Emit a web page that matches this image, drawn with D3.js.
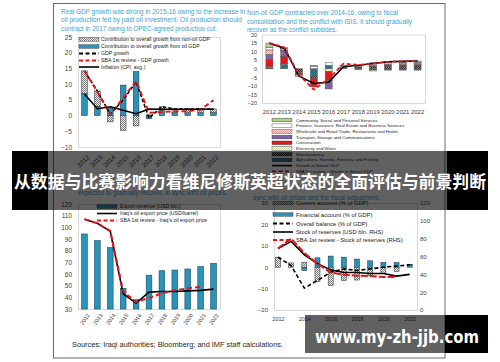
<!DOCTYPE html>
<html>
<head>
<meta charset="utf-8">
<script src="https://cdn.jsdelivr.net/npm/d3@7/dist/d3.min.js"></script>
<style>
    body { margin: 0; background: #fff; }
    svg { display: block; font-family: "Liberation Sans", Arial, sans-serif; }
</style>
</head>
<body>
<svg width="500" height="362"></svg>
<script>
// years shared by the panels
var years = ["2012", "2013", "2014", "2015", "2016", "2017", "2018", "2019", "2020", "2021", "2022"];

// panel 1 - real GDP growth, percent
var oilContribution = [7.0, 3.0, 2.4, 9.7, 14.0, -1.0, 1.6, 0.9, 0.9, 0.9, 0.9];
var nonOilContribution = [7.2, 4.8, -2.0, -4.7, -3.3, 0.2, 1.2, 1.2, 1.2, 1.2, 1.2];
var gdpGrowth = [14.2, 7.8, 0.4, 5.0, 10.7, -0.8, 2.8, 2.1, 2.1, 2.1, 2.1];
var sbaGdpGrowth = [14.2, 7.6, 0.3, 5.6, 11.0, 0.9, 1.1, 1.4, 1.4, 1.9, 4.9];
var inflation = [6.9, 2.2, 2.8, 1.7, 0.6, 2.1, 2.0, 2.0, 2.0, 2.0, 2.0];
var p1Ticks = [25, 20, 15, 10, 5, 0, -5, -10];

// panel 2 - non-oil GDP growth by sector, percentage points
var agriculture = [0.3, 2.5, 0, -4.3, 2.0, 0, -0.5, -0.7, -0.8, -0.8, -0.8];
var manufacturing = [0.5, 0, -2.0, -1.3, 0, 0.8, 1.0, 1.5, 1.5, 1.6, 1.7];
var electricity = [0.4, 0.3, -0.5, 0, -1.6, 0, 0, -0.6, 0, 0, 0];
var construction = [4.3, 4.5, -1.0, -5.0, -5.3, 0, 0, 0.5, 0.8, 0.9, 0.9];
var transport = [2.9, 3.5, 0, 0, -4.9, 0, 0, 0, 0, 0, 0];
var wholesale = [2.6, 0.8, 0, 0, 0, 0, 0, 0, 0.5, 0.5, 0.6];
var finance = [1.4, 0.3, 0, 1.5, 1.5, 0.5, 0.5, 0.8, 0.7, 0.6, 0.6];
var community = [2.6, 0.6, -1.0, 0.5, 0, 0.5, 0.5, 0.7, 0.6, 0.7, 0.7];
var nonOilGrowth = [14.9, 12.0, -4.3, -8.6, -7.8, 1.2, 2.0, 3.1, 4.1, 4.3, 4.5];
var sbaNonOilGrowth = [15.0, 12.5, -3.5, -12.2, -6.0, 3.0, 2.2, 3.0, 4.0, 4.5, 4.5];
var p2Ticks = [20, 15, 10, 5, 0, -5, -10, -15, -20];

// panel 3 - exports
var exportRevenue = [94.3, 88.6, 82.6, 47.7, 38.0, 59.0, 62.8, 63.4, 64.3, 66.3, 69.1];
var oilPrice = [107, 103.5, 96.5, 43, 35, 44.5, 45, 45, 45.5, 46, 47];
var sbaOilPrice = [107, 103.5, 97, 45, 36, 39.5, 43.5, 46, 47.7, 49];
var p3Ticks = [120, 110, 100, 90, 80, 70, 60, 50, 40, 30];

// panel 4 - balance of payments
var bopYears = [2012, 2013, 2014, 2015, 2016, 2017, 2018, 2019, 2020, 2021, 2022];
var currentAccount = [4.7, 2.0, 2.3, -6.7, -8.6, -6.2, -6.0, -4.0, -3.0, -2.0, 0.3];
var financialAccount = [0, 0, -1.5, 4.4, 5.2, 4.7, 3.8, 3.0, 2.3, 2.2, 1.1];
var overallBalance = [4.7, 0.8, -9.8, -6.2, -2.3, -0.8, -1.5, -0.8, 0, 0.5, 1.1];
var reserves = [69, 77, 62, 52, 45, 42, 42, 41, 41, 38, 40];
var sbaReserves = [69, 80, 64, 52, 42, 39.5, 38.5, 38, 37, 37];
var p4LeftTicks = [30, 20, 10, 0, -10, -20];
var p4RightTicks = [120, 100, 80, 60, 40, 20, 0];
var p4YearTicks = [2012, 2014, 2016, 2018, 2020, 2022];

(function () {
    var svg = d3.select("svg");
    var teal = "#2a93ba", tealEdge = "#164a5c", red = "#e8141b";
    var axisText = "#404040", titleBlue = "#3c9fcf", boxGray = "#cfcfcf";

    svg.append("rect").attr("width", 500).attr("height", 362).attr("fill", "#fff");

    // 2x2 checker patterns for hatched / dotted fills
    var defs = svg.append("defs");
    function checker(id, a, b) {
        var p = defs.append("pattern").attr("id", id)
            .attr("width", 2).attr("height", 2).attr("patternUnits", "userSpaceOnUse");
        p.append("rect").attr("width", 2).attr("height", 2).attr("fill", a);
        p.append("rect").attr("width", 1).attr("height", 1).attr("fill", b);
        p.append("rect").attr("x", 1).attr("y", 1).attr("width", 1).attr("height", 1).attr("fill", b);
    }
    checker("hatch", "#f0f0f0", "#7a7a7a");
    checker("dotPink", "#fde6e6", "#e39a9a");
    checker("dotDark", "#808080", "#262626");
    checker("dotGreen", "#ffffff", "#c3d6a0");

    function label(x, y, str, size, fill, anchor, width) {
        var t = svg.append("text").attr("x", x).attr("y", y)
            .attr("font-size", size).attr("fill", fill)
            .attr("text-anchor", anchor || "start").text(str);
        if (width) t.attr("textLength", width).attr("lengthAdjust", "spacingAndGlyphs");
        return t;
    }

    function box(x0, y0, x1, y1) {
        svg.append("rect").attr("x", x0 + 0.5).attr("y", y0 + 0.5)
            .attr("width", x1 - x0).attr("height", y1 - y0)
            .attr("fill", "none").attr("stroke", boxGray).attr("stroke-width", 0.8);
    }

    function styleAxis(g, size) {
        g.select(".domain").remove();
        g.attr("font-family", null).attr("font-size", size).style("color", axisText);
        return g;
    }

    function drawLine(values, xf, yf, color, width, dash) {
        var line = d3.line()
            .defined(function (d) { return d != null; })
            .x(function (d, i) { return xf(i); })
            .y(function (d) { return yf(d); });
        svg.append("path").datum(values)
            .attr("d", line).attr("fill", "none")
            .attr("stroke", color).attr("stroke-width", width)
            .attr("stroke-dasharray", dash || null)
            .attr("stroke-linejoin", "round");
    }

    function legendRow(x, y, kind, color, text, size, textX) {
        if (kind === "rect") {
            svg.append("rect").attr("x", x).attr("y", y - 1.8).attr("width", 20).attr("height", 3.6)
                .attr("fill", color).attr("stroke", "#333").attr("stroke-width", 0.4);
        } else {
            svg.append("line").attr("x1", x).attr("x2", x + 20).attr("y1", y).attr("y2", y)
                .attr("stroke", color).attr("stroke-width", kind === "solid" ? 1.6 : 1.8)
                .attr("stroke-dasharray", kind === "dash" ? "4,2.5" : null);
        }
        label(textX, y + size * 0.35, text, size, "#222");
    }

    function stackedBars(rows, keys, fills, xf, barW, yf, stroke) {
        var series = d3.stack().keys(keys).offset(d3.stackOffsetDiverging)(rows);
        series.forEach(function (s, k) {
            svg.append("g").selectAll("rect")
                .data(s.filter(function (d) { return d[1] !== d[0]; }))
                .enter().append("rect")
                .attr("x", function (d) { return xf(d.data) - barW / 2; })
                .attr("y", function (d) { return yf(Math.max(d[0], d[1])); })
                .attr("width", barW)
                .attr("height", function (d) { return Math.abs(yf(d[0]) - yf(d[1])); })
                .attr("fill", fills[k])
                .attr("stroke", stroke).attr("stroke-width", 0.5);
        });
    }

    // ---------- panel 1 ----------
    label(61, 13.5, "Real GDP growth was strong in 2015-16 owing to the increase in", 6.5, titleBlue, "start", 184);
    label(61, 22, "oil production fed by past oil investment. Oil production should", 6.5, titleBlue, "start", 181);
    label(61, 30.5, "contract in 2017 owing to OPEC-agreed production cut.", 6.5, titleBlue, "start", 156);

    var x1 = d3.scaleBand().domain(years).range([78, 220]);
    var y1 = d3.scaleLinear().domain([-10, 25]).range([147, 37]);
    var c1 = function (i) { return x1(years[i]) + x1.bandwidth() / 2; };
    box(78, 37, 220, 147);

    styleAxis(svg.append("g").attr("transform", "translate(78,0)")
        .call(d3.axisLeft(y1).tickValues(p1Ticks).tickSize(0).tickPadding(6)), 6.5);
    var ax1 = styleAxis(svg.append("g").attr("transform", "translate(0,147)")
        .call(d3.axisBottom(x1).tickSize(0)), 6.5);
    ax1.selectAll("text").attr("x", 0).attr("y", 0).attr("dy", "0.35em")
        .attr("text-anchor", "end").attr("transform", "translate(4,9) rotate(-45)");

    var p1Rows = years.map(function (yr, i) { return { i: i, oil: oilContribution[i], nonOil: nonOilContribution[i] }; });
    stackedBars(p1Rows, ["oil", "nonOil"], [teal, "url(#hatch)"],
        function (d) { return c1(d.i); }, x1.bandwidth() * 0.44, y1, "#1e2d33");

    drawLine(gdpGrowth, c1, y1, "#000", 1.6, "3.5,2");
    drawLine(sbaGdpGrowth, c1, y1, red, 2, "5,3");
    drawLine(inflation, c1, y1, "#000", 1.5);

    legendRow(79, 39.5, "rect", "url(#hatch)", "Contribution to overall growth from non-oil GDP", 5.2, 101);
    legendRow(79, 46.5, "rect", teal, "Contribution to overall growth from oil GDP", 5.2, 101);
    legendRow(79, 53.5, "dash", "#000", "GDP growth", 5.2, 101);
    legendRow(79, 60.5, "dash", red, "SBA 1st review - GDP growth", 5.2, 101);
    legendRow(79, 67, "solid", "#000", "Inflation (CPI, avg.)", 5.2, 101);

    // ---------- panel 2 ----------
    label(247, 15, "Non-oil GDP contracted over 2014-16, owing to fiscal", 6.5, titleBlue, "start", 151);
    label(247, 23.5, "consolidation and the conflict with ISIS. It should gradually", 6.5, titleBlue, "start", 165);
    label(247, 31.5, "recover as the conflict subsides.", 6.5, titleBlue, "start", 90);

    var x2 = d3.scaleBand().domain(years).range([262, 425]);
    var y2 = d3.scaleLinear().domain([-20, 20]).range([103, 34.5]);
    var c2 = function (i) { return x2(years[i]) + x2.bandwidth() / 2; };
    box(262, 34.5, 425, 103);

    styleAxis(svg.append("g").attr("transform", "translate(262,0)")
        .call(d3.axisLeft(y2).tickValues(p2Ticks).tickSize(0).tickPadding(5)), 5.5);
    styleAxis(svg.append("g").attr("transform", "translate(0,103)")
        .call(d3.axisBottom(x2).tickSize(0).tickPadding(7)), 6);

    var sectorKeys = ["agri", "manu", "elec", "cons", "trans", "whole", "fin", "comm"];
    var sectorFills = ["#2b6f8e", "url(#dotDark)", "url(#dotGreen)", "#e5161d", "#8064a2", "url(#dotPink)", "#ffffff", "#b4cf8c"];
    var p2Rows = years.map(function (yr, i) {
        return {
            i: i, agri: agriculture[i], manu: manufacturing[i], elec: electricity[i], cons: construction[i],
            trans: transport[i], whole: wholesale[i], fin: finance[i], comm: community[i]
        };
    });
    stackedBars(p2Rows, sectorKeys, sectorFills,
        function (d) { return c2(d.i); }, x2.bandwidth() * 0.47, y2, "#555");

    drawLine(nonOilGrowth, c2, y2, "#000", 1.6);
    drawLine(sbaNonOilGrowth, c2, y2, red, 1.8, "4,2.5");

    var sectorNames = [
        "Community, Social and Personal Services",
        "Finance, Insurance, Real Estate and Business Services",
        "Wholesale and Retail Trade, Restaurants and Hotels",
        "Transport, Storage and Communications",
        "Construction",
        "Electricity and Water",
        "Manufacturing",
        "Agriculture, Hunting, Forestry, and Fishing"
    ];
    sectorNames.forEach(function (name, k) {
        legendRow(272, 120 + k * 5.7, "rect", sectorFills[7 - k], name, 4.4, 296);
    });
    legendRow(272, 120 + 8 * 5.7, "solid", "#000", "Growth in Nonoil GDP", 4.4, 296);
    legendRow(272, 120 + 9 * 5.7, "dash", red, "SBA 1st review - Growth in Nonoil GDP", 4.4, 296);

    // ---------- panel 3 ----------
    label(78, 195, "expected to gradually recover, in sync with oil prices.", 6.5, titleBlue, "start", 149);

    var x3 = d3.scaleBand().domain(years).range([78, 220]);
    var y3 = d3.scaleLinear().domain([30, 120]).range([309, 204]);
    var c3 = function (i) { return x3(years[i]) + x3.bandwidth() / 2; };
    box(78, 204, 220, 309);

    styleAxis(svg.append("g").attr("transform", "translate(78,0)")
        .call(d3.axisLeft(y3).tickValues(p3Ticks).tickSize(0).tickPadding(6)), 6.5);
    var ax3 = styleAxis(svg.append("g").attr("transform", "translate(0,309)")
        .call(d3.axisBottom(x3).tickSize(0)), 5.5);
    ax3.selectAll("text").attr("x", 0).attr("y", 0).attr("dy", "0.35em")
        .attr("text-anchor", "end").attr("transform", "translate(4,5) rotate(-55)");

    var bw3 = x3.bandwidth() * 0.44;
    svg.append("g").selectAll("rect").data(exportRevenue).enter().append("rect")
        .attr("x", function (d, i) { return c3(i) - bw3 / 2; })
        .attr("y", function (d) { return y3(d); })
        .attr("width", bw3)
        .attr("height", function (d) { return y3(30) - y3(d); })
        .attr("fill", teal).attr("stroke", tealEdge).attr("stroke-width", 0.6);

    drawLine(oilPrice, c3, y3, "#000", 1.6);
    drawLine(sbaOilPrice, c3, y3, red, 2, "5,3");

    legendRow(97, 206.5, "rect", teal, "Export revenue (USD bln.)", 5.2, 120);
    legendRow(97, 213.5, "solid", "#000", "Iraq's oil export price (USD/barrel)", 5.2, 120);
    legendRow(97, 220.5, "dash", red, "SBA 1st review - Iraq's oil export price", 5.2, 120);

    label(72, 347, "Sources: Iraqi authorities; Bloomberg; and IMF staff calculations.", 6.5, "#262626", "start", 211);

    // ---------- panel 4 ----------
    label(253, 200, "sync with oil prices and the fiscal adjustment.", 6.5, titleBlue, "start", 127);

    var x4 = d3.scaleLinear().domain([2011.7, 2022.55]).range([274, 417]);
    var y4 = d3.scaleLinear().domain([-20, 30]).range([310, 203]);
    var y4r = d3.scaleLinear().domain([0, 120]).range([310, 203]);
    var c4 = function (i) { return x4(bopYears[i]); };
    box(274, 203, 417, 310);

    styleAxis(svg.append("g").attr("transform", "translate(274,0)")
        .call(d3.axisLeft(y4).tickValues(p4LeftTicks).tickSize(0).tickPadding(6)), 6);
    styleAxis(svg.append("g").attr("transform", "translate(417,0)")
        .call(d3.axisRight(y4r).tickValues(p4RightTicks).tickSize(0).tickPadding(3)), 6);
    styleAxis(svg.append("g").attr("transform", "translate(0,310)")
        .call(d3.axisBottom(x4).tickValues(p4YearTicks).tickFormat(d3.format("d")).tickSize(0).tickPadding(7)), 5.5);

    var p4Rows = bopYears.map(function (yr, i) { return { i: i, fa: financialAccount[i], ca: currentAccount[i] }; });
    stackedBars(p4Rows, ["fa", "ca"], [teal, "url(#hatch)"],
        function (d) { return c4(d.i); }, 5, y4, "#1e2d33");

    drawLine(overallBalance, c4, y4, "#000", 1.6, "4,2.5");
    drawLine(reserves, c4, y4r, "#000", 1.6);
    drawLine(sbaReserves, c4, y4r, red, 2, "7,2");

    legendRow(273, 203, "rect", "url(#hatch)", "Current account (% of GDP)", 5.8, 296);
    legendRow(273, 214.5, "rect", teal, "Financial account (% of GDP)", 5.8, 296);
    legendRow(273, 223.5, "dash", "#000", "Overall balance (% of GDP)", 5.8, 296);
    legendRow(273, 232, "solid", "#000", "Stock of reserves (USD bln. RHS)", 5.8, 296);
    legendRow(273, 240, "dash", red, "SBA 1st review - Stock of reserves (RHS)", 5.8, 296);

    // page frame
    svg.append("rect").attr("x", 53.5).attr("y", 3.5).attr("width", 391.5).attr("height", 354.5)
        .attr("fill", "none").attr("stroke", "#6a6a6a").attr("stroke-width", 1);

    // title banner on top
    svg.append("rect").attr("x", 12).attr("y", 151).attr("width", 36).attr("height", 59).attr("fill", "#000");
    svg.append("rect").attr("x", 48).attr("y", 151).attr("width", 399).attr("height", 59).attr("fill", "rgba(0,0,0,0.62)");
    svg.append("rect").attr("x", 447).attr("y", 151).attr("width", 41).attr("height", 59).attr("fill", "#000");
    svg.append("text").attr("x", 250).attr("y", 187.5).attr("text-anchor", "middle")
        .attr("font-family", "'Noto Sans CJK SC', sans-serif").attr("font-weight", "bold")
        .attr("font-size", 17).attr("fill", "#fff")
        .attr("textLength", 472).attr("lengthAdjust", "spacingAndGlyphs")
        .text("从数据与比赛影响力看维尼修斯英超状态的全面评估与前景判断");

    // site watermark
    svg.append("rect").attr("x", 305).attr("y", 315).attr("width", 140).attr("height", 38).attr("fill", "rgba(0,0,0,0.62)");
    svg.append("rect").attr("x", 445).attr("y", 315).attr("width", 43).attr("height", 38).attr("fill", "#000");
    svg.append("text").attr("x", 315).attr("y", 342.5)
        .attr("font-family", "'DejaVu Sans', sans-serif").attr("font-weight", "bold")
        .attr("font-size", 18).attr("fill", "#fff")
        .attr("textLength", 164).attr("lengthAdjust", "spacingAndGlyphs")
        .text("www.my-zh-jjb.com");
}());
</script>
</body>
</html>
